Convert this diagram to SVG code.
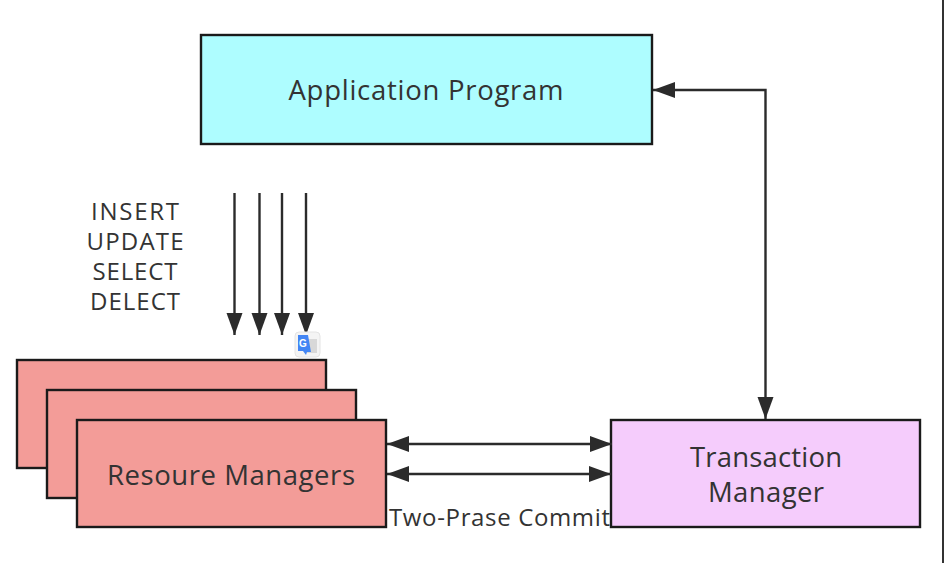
<svg xmlns="http://www.w3.org/2000/svg" width="944" height="563" viewBox="0 0 944 563">
<style>
.box{stroke:#1a1a1a;stroke-width:2.4}
.rm{fill:#f39c98}
.t{font-family:"Open Sans","Noto Sans",sans-serif;fill:#333;text-anchor:middle}
.c{fill:none;stroke:#2b2b2b;stroke-width:2.4}
</style>
<defs>
<marker id="a" markerUnits="userSpaceOnUse" markerWidth="24" markerHeight="18" refX="22" refY="9" orient="auto-start-reverse"><path d="M0 1L22 9L0 17L0 1Z" fill="#2b2b2b"/></marker>
</defs>
<rect width="944" height="563" fill="#fff"/>
<rect x="942" y="0" width="2" height="563" fill="#333"/>
<g id="app"><rect class="box" x="201" y="35" width="451" height="109" fill="#aefdff"/>
<text class="t" x="426" y="100" font-size="27.5" textLength="275" lengthAdjust="spacing">Application Program</text></g>
<g id="sql"><text class="t" x="135" y="220" font-size="24" textLength="88">INSERT</text>
<text class="t" x="135" y="250" font-size="24" textLength="97">UPDATE</text>
<text class="t" x="135" y="280" font-size="24" textLength="85">SELECT</text>
<text class="t" x="135" y="310" font-size="24" textLength="90">DELECT</text></g>
<g id="rm3"><rect class="box rm" x="17" y="360" width="309" height="108"/></g>
<g id="rm2"><rect class="box rm" x="47" y="390" width="309" height="108"/></g>
<g id="rm1"><rect class="box rm" x="77" y="420" width="309" height="107"/>
<text class="t" x="231" y="485" font-size="27.5" textLength="248">Resoure Managers</text></g>
<g id="tm"><rect class="box" x="611" y="420" width="309" height="107" fill="#f5ccfc"/>
<text class="t" x="766" y="467" font-size="27.5" textLength="152">Transaction</text>
<text class="t" x="766" y="502" font-size="27.5" textLength="116">Manager</text></g>
<g id="connectors">
<path class="c" d="M234.500 193V335" marker-end="url(#a)"/>
<path class="c" d="M259.500 193V335" marker-end="url(#a)"/>
<path class="c" d="M282 193V335" marker-end="url(#a)"/>
<path class="c" d="M306 193V335" marker-end="url(#a)"/>
<path class="c" d="M653 90H765.500V419" marker-start="url(#a)" marker-end="url(#a)"/>
<path class="c" d="M387 444H612" marker-start="url(#a)" marker-end="url(#a)"/>
<path class="c" d="M387 474H611" marker-start="url(#a)" marker-end="url(#a)"/>
</g>
<text class="t" x="499.500" y="526" font-size="24" textLength="221">Two-Prase Commit</text>
<g id="translate-badge">
<rect x="295" y="332" width="25" height="25" rx="4" fill="#f4f4f4" stroke="#e4e4e4"/>
<rect x="307" y="339" width="10" height="14" fill="#d8d8d8"/>
<path d="M298 335H308L311 352H307L306 355L303 351H298Z" fill="#4285f4"/>
<text x="303" y="347" font-family="Liberation Sans,sans-serif" font-size="10" font-weight="bold" fill="#fff" text-anchor="middle">G</text>
</g>
</svg>
